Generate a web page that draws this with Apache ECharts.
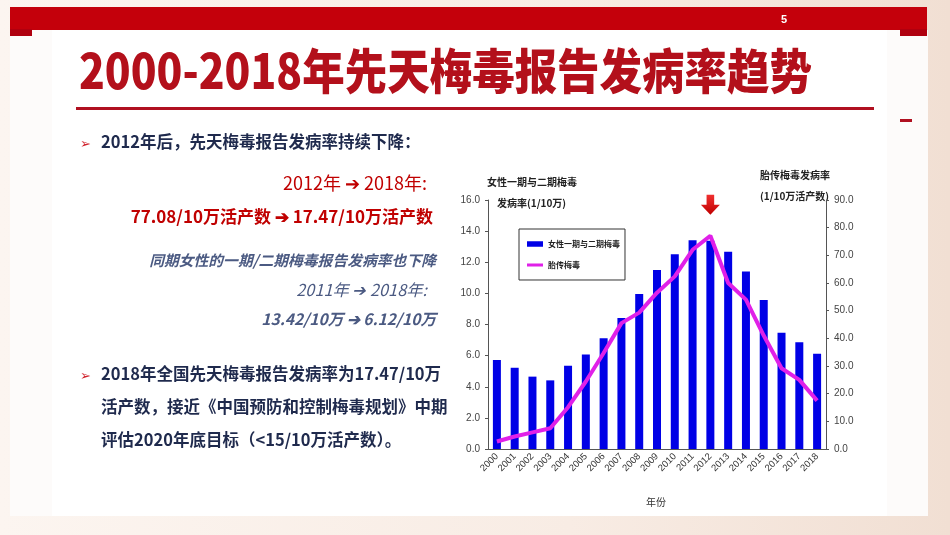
<!DOCTYPE html>
<html>
<head>
<meta charset="utf-8">
<script src="https://cdn.jsdelivr.net/npm/echarts@6/dist/echarts.min.js"></script>
<style>
  html, body { margin: 0; padding: 0; }
  body { background: linear-gradient(90deg, #fcf5f0 0%, #f8ece4 60%, #f1dfd3 100%); }
  #chart { width: 950px; height: 535px; }
</style>
</head>
<body>
<div id="chart"></div>
<script>
// 年份
const years = ['2000', '2001', '2002', '2003', '2004', '2005', '2006', '2007', '2008', '2009',
  '2010', '2011', '2012', '2013', '2014', '2015', '2016', '2017', '2018']
// 女性一期与二期梅毒发病率 (1/10万)
const femaleRate = [5.72, 5.22, 4.65, 4.41, 5.35, 6.08, 7.11, 8.42, 9.96, 11.5,
  12.51, 13.42, 13.38, 12.68, 11.4, 9.58, 7.47, 6.86, 6.12]
// 胎传梅毒发病率 (1/10万活产数)
const congenitalRate = [2.7, 4.5, 6.0, 7.5, 15.1, 24.4, 34.7, 45.5, 49.3, 56.5,
  62.4, 72.0, 77.08, 60.0, 54.0, 41.0, 29.2, 25.0, 17.47]
const leftTicks = { min: 0, max: 16, interval: 2 }
const rightTicks = { min: 0, max: 90, interval: 10 }

const chart = echarts.init(document.getElementById('chart'))

const navy = '#1f2a4d'
const red = '#c00000'
const slate = '#4b5a82'
const tickFont = '"Liberation Sans Narrow", "Liberation Sans", sans-serif'
const cjk = '"Noto Sans CJK SC", sans-serif'

// 页面装饰与左侧文字
const graphics = [
  { type: 'rect', shape: { x: 10, y: 30, width: 918, height: 486 }, style: { fill: '#fff' } },
  { type: 'rect', shape: { x: 10, y: 30, width: 42, height: 486 }, style: { fill: '#fdfbfa' } },
  { type: 'rect', shape: { x: 887, y: 30, width: 41, height: 486 }, style: { fill: '#fdfbfa' } },
  { type: 'rect', shape: { x: 10, y: 7, width: 917, height: 23 }, style: { fill: '#c4000b' } },
  { type: 'rect', shape: { x: 10, y: 29, width: 22, height: 7 }, style: { fill: '#b0000f' } },
  { type: 'rect', shape: { x: 900, y: 29, width: 27, height: 7 }, style: { fill: '#b0000f' } },
  { type: 'text', x: 781, y: 14, style: { text: '5', fill: '#fff', font: 'bold 11px ' + tickFont } },
  { type: 'text', x: 79, y: 47, scaleX: 0.885, style: { text: '2000-2018年先天梅毒报告发病率趋势', fill: '#b3101b', font: '900 48px ' + cjk } },
  { type: 'rect', shape: { x: 76, y: 107, width: 798, height: 3 }, style: { fill: '#b01020' } },
  { type: 'rect', shape: { x: 900, y: 119, width: 12, height: 3 }, style: { fill: '#b01020' } },

  { type: 'text', left: 80, top: 137, style: { text: '➢', fill: '#d0202a', font: '13px ' + cjk } },
  { type: 'text', left: 101, top: 133, style: { text: '2012年后，先天梅毒报告发病率持续下降：', fill: navy, font: 'bold 16.5px ' + cjk } },
  { type: 'text', right: 523, top: 174, style: { text: '2012年 ➔ 2018年:', fill: red, font: '18px ' + cjk } },
  { type: 'text', right: 517, top: 208, style: { text: '77.08/10万活产数 ➔ 17.47/10万活产数', fill: red, font: 'bold 17px ' + cjk } },
  { type: 'text', right: 514, top: 253, style: { text: '同期女性的一期/二期梅毒报告发病率也下降', fill: slate, font: 'italic bold 14.8px ' + cjk } },
  { type: 'text', right: 523, top: 282, style: { text: '2011年 ➔ 2018年:', fill: slate, font: 'italic 16.3px ' + cjk } },
  { type: 'text', right: 514, top: 311, style: { text: '13.42/10万 ➔ 6.12/10万', fill: slate, font: 'italic bold 15.6px ' + cjk } },

  { type: 'text', left: 80, top: 369, style: { text: '➢', fill: '#d0202a', font: '13px ' + cjk } },
  { type: 'text', left: 101, top: 365, style: { text: '2018年全国先天梅毒报告发病率为17.47/10万', fill: navy, font: 'bold 16.5px ' + cjk } },
  { type: 'text', left: 101, top: 398, style: { text: '活产数，接近《中国预防和控制梅毒规划》中期', fill: navy, font: 'bold 16.5px ' + cjk } },
  { type: 'text', left: 101, top: 431, style: { text: '评估2020年底目标（<15/10万活产数）。', fill: navy, font: 'bold 16.5px ' + cjk } },

  // 坐标轴标题
  { type: 'text', left: 487, top: 177, style: { text: '女性一期与二期梅毒', fill: '#222', font: 'bold 10px ' + cjk } },
  { type: 'text', left: 497, top: 198, style: { text: '发病率(1/10万)', fill: '#222', font: 'bold 10px ' + cjk } },
  { type: 'text', left: 760, top: 170, style: { text: '胎传梅毒发病率', fill: '#222', font: 'bold 10px ' + cjk } },
  { type: 'text', left: 760, top: 191, style: { text: '(1/10万活产数)', fill: '#222', font: 'bold 10px ' + cjk } },
  { type: 'text', left: 646, top: 497, style: { text: '年份', fill: '#333', font: '10px ' + cjk } }
]

const option = {
  animation: false,
  graphic: graphics,
  grid: { left: 488, right: 124, top: 200, bottom: 86 },
  legend: {
    orient: 'vertical',
    left: 519,
    top: 229,
    padding: [11, 5, 11, 8],
    itemGap: 13,
    itemWidth: 16,
    itemHeight: 9,
    backgroundColor: '#fff',
    borderColor: '#333',
    borderWidth: 1,
    borderRadius: 0,
    textStyle: { fontFamily: cjk, fontSize: 8, fontWeight: 'bold', color: '#222' },
    data: [
      { name: '女性一期与二期梅毒', icon: 'path://M0,0 L0.01,0 Z M0,1 L20,1 L20,8 L0,8 Z M0,9 L0.01,9 Z' },
      { name: '胎传梅毒', icon: 'path://M0,0 L0.01,0 Z M0,2.5 L20,2.5 L20,6.5 L0,6.5 Z M0,9 L0.01,9 Z' }
    ]
  },
  xAxis: {
    type: 'category',
    data: years,
    axisLine: { lineStyle: { color: '#555' } },
    axisTick: { inside: true, length: 3, lineStyle: { color: '#555' } },
    axisLabel: { interval: 0, rotate: 45, fontFamily: tickFont, fontSize: 9.5, color: '#333', margin: 6 }
  },
  yAxis: [
    {
      type: 'value',
      min: leftTicks.min, max: leftTicks.max, interval: leftTicks.interval,
      splitLine: { show: false },
      axisLine: { show: true, lineStyle: { color: '#555' } },
      axisTick: { show: true, length: 3, lineStyle: { color: '#555' } },
      axisLabel: { fontFamily: tickFont, fontSize: 10, color: '#444', margin: 8, formatter: v => v.toFixed(1) }
    },
    {
      type: 'value',
      min: rightTicks.min, max: rightTicks.max, interval: rightTicks.interval,
      splitLine: { show: false },
      axisLine: { show: true, lineStyle: { color: '#555' } },
      axisTick: { show: true, length: 3, lineStyle: { color: '#555' } },
      axisLabel: { fontFamily: tickFont, fontSize: 10, color: '#444', margin: 8, formatter: v => v.toFixed(1) }
    }
  ],
  series: [
    {
      name: '女性一期与二期梅毒',
      type: 'bar',
      yAxisIndex: 0,
      barWidth: 8,
      itemStyle: { color: '#0000e6' },
      data: femaleRate,
      markPoint: {
        symbol: 'path://M3,0 L7,0 L7,5 L10,5 L5,10 L0,5 L3,5 Z',
        symbolSize: [19, 20],
        label: { show: false },
        itemStyle: {
          color: new echarts.graphic.LinearGradient(0, 0, 0, 1, [
            { offset: 0, color: '#f03030' },
            { offset: 1, color: '#c00000' }
          ])
        },
        data: [{ coord: ['2012', 15.7] }]
      }
    },
    {
      name: '胎传梅毒',
      type: 'line',
      yAxisIndex: 1,
      symbol: 'none',
      lineStyle: { color: '#e020e8', width: 4 },
      itemStyle: { color: '#e020e8' },
      data: congenitalRate
    }
  ]
}

chart.setOption(option)
</script>
</body>
</html>
